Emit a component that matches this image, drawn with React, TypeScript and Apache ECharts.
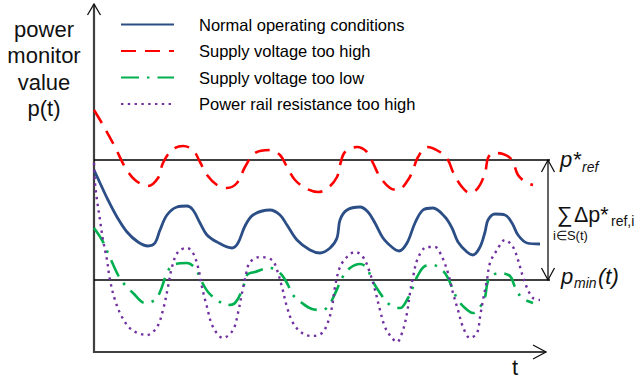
import React, { useEffect, useRef } from "react";
import * as echarts from "echarts";

// ---- data (t, p) ----
const seriesNames = [
  "Normal operating conditions",
  "Supply voltage too high",
  "Supply voltage too low",
  "Power rail resistance too high",
];

const normalValues: number[][] = [
  [0, 182], [6, 169], [14, 152], [23, 135], [33, 120], [44, 110], [54, 106], [61, 109], [66, 122],
  [73, 137], [83, 145], [93, 146], [99, 142], [106, 129], [113, 117], [123, 110], [138, 104],
  [144, 109], [151, 126], [159, 137], [176, 142], [186, 137], [193, 127], [203, 112], [216, 102],
  [226, 99], [236, 104], [243, 114], [246, 132], [253, 142], [266, 145], [274, 140], [281, 129],
  [289, 114], [299, 104], [305, 101], [313, 109], [321, 129], [329, 142], [339, 144], [351, 135],
  [358, 124], [364, 110], [373, 100], [379, 97], [386, 105], [391, 120], [394, 132], [401, 138],
  [411, 137], [418, 129], [424, 117], [433, 109], [446, 108],
];

const highVoltageValues: number[][] = [
  [0, 242], [9, 227], [21, 205], [31, 185], [41, 172], [54, 166], [64, 174], [69, 189], [78, 202],
  [89, 206], [99, 202], [106, 190], [113, 177], [123, 167], [133, 164], [143, 169], [151, 185],
  [161, 199], [176, 202], [186, 197], [193, 185], [201, 172], [213, 163], [224, 160], [234, 164],
  [243, 175], [246, 187], [251, 200], [263, 205], [273, 200], [279, 189], [286, 175], [296, 164],
  [304, 162], [314, 172], [319, 182], [324, 195], [333, 205], [346, 200], [354, 192], [359, 180],
  [368, 165], [376, 159], [384, 164], [391, 179], [394, 194], [399, 199], [409, 198], [418, 192],
  [424, 177], [433, 169], [439, 167],
];

const lowVoltageValues: number[][] = [
  [0, 124], [8, 112], [14, 99], [24, 77], [31, 67], [39, 59], [51, 49], [61, 52], [66, 60], [73, 79],
  [79, 87], [93, 89], [101, 84], [108, 70], [114, 60], [123, 52], [133, 47], [141, 49], [149, 64],
  [153, 77], [161, 80], [176, 84], [186, 79], [193, 69], [199, 57], [208, 49], [218, 43], [228, 42],
  [234, 45], [239, 54], [244, 65], [248, 74], [256, 84], [266, 88], [273, 84], [278, 72], [286, 59],
  [296, 47], [306, 44], [314, 54], [319, 65], [323, 75], [331, 86], [339, 87], [348, 82], [354, 74],
  [359, 62], [364, 52], [371, 44], [379, 39], [386, 45], [391, 55], [393, 67], [396, 75], [406, 79],
  [416, 76], [421, 65], [428, 54], [439, 49],
];

const railResistanceValues: number[][] = [
  [0, 189], [1, 169], [3, 152], [6, 132], [9, 112], [13, 92], [16, 72], [21, 52], [28, 35], [38, 22],
  [53, 17], [63, 25], [69, 42], [74, 65], [78, 85], [84, 100], [93, 104], [99, 99], [104, 85],
  [108, 65], [113, 45], [119, 25], [129, 14], [139, 22], [144, 39], [148, 59], [153, 82], [156, 90],
  [166, 95], [178, 92], [183, 82], [188, 65], [193, 45], [199, 29], [208, 19], [218, 16], [228, 19],
  [234, 30], [238, 45], [241, 65], [246, 85], [253, 95], [261, 100], [269, 95], [276, 79], [281, 62],
  [286, 42], [291, 25], [298, 14], [303, 10], [309, 22], [313, 39], [316, 59], [319, 75], [324, 94],
  [333, 105], [341, 105], [348, 95], [354, 79], [359, 59], [364, 42], [369, 25], [376, 14], [383, 19],
  [386, 35], [389, 52], [393, 72], [396, 89], [403, 102], [411, 112], [419, 105], [424, 92], [429, 75],
  [434, 62], [439, 54], [446, 52],
];

const pRefLevel = 192;
const pMinLevel = 72;
const tAxisEnd = 452;
const tLineEnd = 456;
const pAxisTop = 348;
const tAnnotation = 454;

const FONT = "'Liberation Sans', Arial, sans-serif";

export default function App() {
  const ref = useRef<HTMLDivElement>(null);

  useEffect(() => {
    if (!ref.current) return;
    const chart = echarts.init(ref.current, null, { renderer: "svg" });

    const curve = (name: string, data: number[][], color: string, width: number, dash: number[] | "solid") => ({
      type: "line",
      name,
      data,
      symbol: "none",
      smooth: 0.35,
      silent: true,
      itemStyle: { color },
      lineStyle: { color, width, type: dash, cap: "butt" },
      z: 3,
    });

    const level = (name: string, p: number) => ({
      type: "line",
      name,
      data: [[0, p], [tLineEnd, p]],
      symbol: "none",
      silent: true,
      lineStyle: { color: "#000", width: 1.5 },
      z: 2,
    });

    chart.setOption({
      animation: false,
      grid: { left: 94, top: 4, width: 456, height: 348 },
      xAxis: { type: "value", min: 0, max: tLineEnd, show: false },
      yAxis: { type: "value", min: 0, max: pAxisTop, show: false },
      legend: {
        data: seriesNames,
        orient: "vertical",
        left: 120,
        top: 16,
        padding: 0,
        itemWidth: 53,
        itemHeight: 14,
        itemGap: 9.5,
        selectedMode: false,
        itemStyle: { opacity: 0 },
        textStyle: { fontSize: 16.5, fontFamily: FONT, color: "#000", padding: [0, 0, 0, 20] },
      },
      series: [
        level("p_ref", pRefLevel),
        level("p_min", pMinLevel),
        curve(seriesNames[0], normalValues, "#2C4E86", 2.8, "solid"),
        curve(seriesNames[1], highVoltageValues, "#FF0000", 2.6, [15, 9]),
        curve(seriesNames[2], lowVoltageValues, "#00B050", 2.6, [18, 8, 2.5, 8]),
        curve(seriesNames[3], railResistanceValues, "#7030A0", 2.4, [2.4, 4.4]),
      ],
    });

    const P = (t: number, p: number) => chart.convertToPixel({ gridIndex: 0 }, [t, p]) as number[];
    const o = P(0, 0);
    const yTop = P(0, pAxisTop);
    const xEnd = P(tAxisEnd, 0);
    const r = P(tLineEnd, pRefLevel);
    const m = P(tLineEnd, pMinLevel);
    const aTop = P(tAnnotation, pRefLevel);
    const aBot = P(tAnnotation, pMinLevel);
    const midY = (r[1] + m[1]) / 2;

    const poly = (points: number[][], stroke: string, lineWidth: number) => ({
      type: "polyline",
      shape: { points },
      style: { stroke, lineWidth, fill: null },
      silent: true,
    });
    const txt = (text: string, x: number, y: number, fontSize: number, italic = false, align = "left") => ({
      type: "text",
      x,
      y,
      silent: true,
      style: {
        text,
        fontSize,
        fontFamily: FONT,
        fontStyle: italic ? "italic" : "normal",
        fill: "#111",
        align,
        verticalAlign: "middle",
      },
    });

    chart.setOption({
      graphic: [
        poly([yTop, o, xEnd], "#404040", 2.2),
        poly([[yTop[0] - 6.5, yTop[1] + 11], yTop, [yTop[0] + 6.5, yTop[1] + 11]], "#111", 1.3),
        poly([[xEnd[0] - 13, xEnd[1] - 7], xEnd, [xEnd[0] - 13, xEnd[1] + 7]], "#111", 1.3),
        poly([aTop, aBot], "#111", 1.3),
        poly([[aTop[0] - 6.5, aTop[1] + 12], aTop, [aTop[0] + 6.5, aTop[1] + 12]], "#111", 1.3),
        poly([[aBot[0] - 6.5, aBot[1] - 12], aBot, [aBot[0] + 6.5, aBot[1] - 12]], "#111", 1.3),
        {
          type: "text",
          x: 44,
          y: 16,
          silent: true,
          style: {
            text: "power\nmonitor\nvalue\np(t)",
            fontSize: 22,
            lineHeight: 26.5,
            fontFamily: FONT,
            fill: "#111",
            align: "center",
            verticalAlign: "top",
          },
        },
        txt("t", 515, 367, 22, false, "center"),
        txt("p*", r[0] + 10, r[1] - 0.6, 22, true),
        txt("ref", r[0] + 32, r[1] + 7, 14, true),
        txt("\u2211", 557, midY - 5.5, 22),
        txt("\u0394p*", 574, midY - 4.6, 21.5),
        txt("ref,i", 611, midY + 1, 14),
        txt("i\u2208S(t)", 553, midY + 15.5, 13),
        txt("p", m[0] + 11, m[1] - 3.6, 22, true),
        txt("min", m[0] + 24, m[1] + 3, 14, true),
        txt("(t)", m[0] + 48, m[1] - 3.6, 22, true),
      ],
    });

    return () => chart.dispose();
  }, []);

  return (
    <div
      ref={ref}
      style={{ position: "absolute", left: 0, top: 0, width: 636, height: 380, background: "#fff" }}
    />
  );
}
